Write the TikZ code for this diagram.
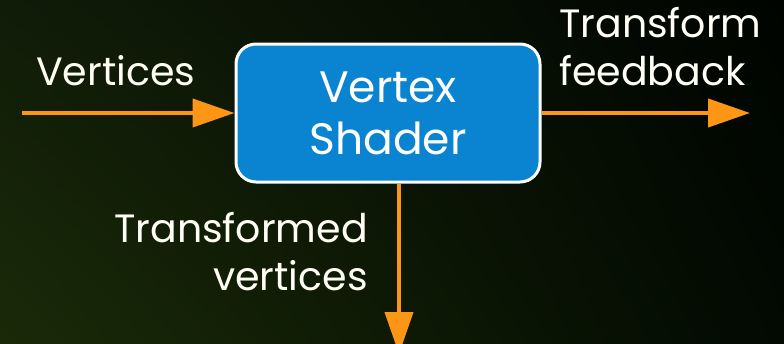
\documentclass[tikz,border=0pt]{standalone}
\usepackage{fontspec}
\setmainfont{Poppins}
\usetikzlibrary{arrows.meta,shadings}
\definecolor{boxblue}{RGB}{10,132,208}
\definecolor{arrorange}{RGB}{252,150,20}
\definecolor{bgll}{RGB}{26,42,8}
\definecolor{bgul}{RGB}{16,28,8}
\definecolor{bgur}{RGB}{0,4,0}
\definecolor{bglr}{RGB}{2,10,2}
\definecolor{txt}{RGB}{255,255,245}
\tikzset{
  arr/.style={draw=arrorange, line width=4pt, -{Triangle[length=42pt,width=28pt]}},
  lbl/.style={text=txt, inner sep=0pt, font=\fontsize{39.5}{48}\selectfont},
  shaderbox/.style={draw=white, line width=3pt, fill=boxblue, rounded corners=20pt,
    minimum width=304pt, minimum height=138pt, align=center, text=white,
    inner sep=0pt, font=\fontsize{44}{52}\selectfont}
}
\begin{document}
\begin{tikzpicture}[x=1pt,y=-1pt]
\useasboundingbox (0,0) rectangle (784,343);
\clip (0,0) rectangle (784,343);
\shade[lower left=bgll, upper left=bgul, upper right=bgur, lower right=bglr] (0,0) rectangle (784,343);
\node[shaderbox] (vs) at (388,113) {Vertex\\Shader};
\coordinate (vin) at (22,113);
\coordinate (vout) at (750,113);
\coordinate (vdown) at (399,354);
\draw[arr] (vin) -- (vs.west);
\draw[arr] (vs.east) -- (vout);
\draw[arr] (vs.south -| vdown) -- (vdown);
\node[lbl, anchor=base west] (lin) at (36,85) {Vertices};
\node[lbl, anchor=base west, align=left] (lout) at (559,85) {Transform\\feedback};
\node[lbl, anchor=base east, align=right] (ldown) at (368,290) {Transformed\\vertices};
\end{tikzpicture}
\end{document}
